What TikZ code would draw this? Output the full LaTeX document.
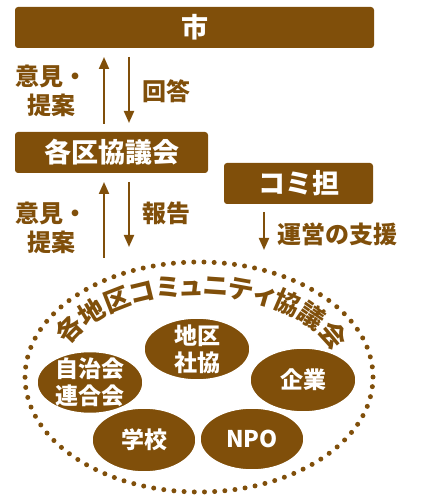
\documentclass[tikz,border=0pt]{standalone}
\usepackage{fontspec}
\setmainfont{Noto Sans CJK JP}
\newfontfamily\arcfont[RawFeature=+palt]{Noto Sans CJK JP}
\usetikzlibrary{arrows.meta,decorations.text,shapes.geometric}
\definecolor{brn}{RGB}{128,79,10}
\begin{document}
\begin{tikzpicture}[x=1pt,y=1pt,
  box/.style={fill=brn, rounded corners=3pt, text=white, inner sep=0pt,
    minimum height=41pt, font=\fontsize{27}{27}\selectfont\bfseries},
  lbl/.style={text=brn, inner sep=0pt, font=\fontsize{24}{29}\selectfont\bfseries},
  arr/.style={draw=brn, line width=2pt, -{Triangle[width=10pt,length=12pt]}},
  blob/.style={ellipse, fill=brn, draw=white, line width=1.5pt, inner sep=0pt},
  blobtxt/.style={text=white, align=center, inner sep=0pt,
    font=\fontsize{23}{27}\selectfont\bfseries}
]
\useasboundingbox (0,0) rectangle (424,500);
% boxes
\node[box, minimum width=359pt] (city) at (194.5,472.5) {市};
\node[box, minimum width=193pt] (kaku) at (111.5,347.5) {各区協議会};
\node[box, minimum width=149pt] (komi) at (298.5,316.5) {コミ担};
% dotted council ellipse
\node[ellipse, draw=brn, line width=5pt, line cap=round, dash pattern=on 0pt off 10.2pt,
  minimum width=348pt, minimum height=230pt, inner sep=0pt] (council) at (199,123) {};
% curved title
\path[decorate, decoration={text along path, text align=fit to path,
  text={|\arcfont\fontsize{26}{26}\selectfont\bfseries\color{brn}|各地区コミュニティ協議会}}]
  ([shift={(158:141 and 82)}]council.center) arc[start angle=158, end angle=18, x radius=141, y radius=82];
% member ellipses
\node[blob, minimum width=106pt, minimum height=62pt,
  label={[blobtxt]center:自治会\\連合会}] (jichi) at (90,117.5) {};
\node[blob, minimum width=106pt, minimum height=62pt,
  label={[blobtxt]center:地区\\社協}] (shakyo) at (197,151) {};
\node[blob, minimum width=106pt, minimum height=64pt,
  label={[blobtxt]center:企業}] (kigyo) at (303,120) {};
\node[blob, minimum width=104pt, minimum height=64pt,
  label={[blobtxt]center:学校}] (gakko) at (144,60) {};
\node[blob, minimum width=104pt, minimum height=62pt,
  label={[blobtxt]center:NPO}] (npo) at (252,61) {};
% arrow end points
\coordinate (u1s) at (104,376); \coordinate (u1e) at (104,443);
\coordinate (d1s) at (129,443); \coordinate (d1e) at (129,377);
\coordinate (u2s) at (104,242); \coordinate (u2e) at (104,318);
\coordinate (d2s) at (129,318); \coordinate (d2e) at (129,253);
\coordinate (d3s) at (264,288); \coordinate (d3e) at (264,250);
\draw[arr] (u1s) -- (u1e);
\draw[arr] (d1s) -- (d1e);
\draw[arr] (u2s) -- (u2e);
\draw[arr] (d2s) -- (d2e);
\draw[arr] (d3s) -- (d3e);
% labels
\node[lbl, align=center] (l1) at (52,409.5) {意見・\\提案};
\node[lbl, anchor=west] (l2) at (142,409) {回答};
\node[lbl, align=center] (l3) at (52,272.5) {意見・\\提案};
\node[lbl, anchor=west] (l4) at (142,287) {報告};
\node[lbl, anchor=west] (l5) at (277,266) {運営の支援};
\end{tikzpicture}
\end{document}
